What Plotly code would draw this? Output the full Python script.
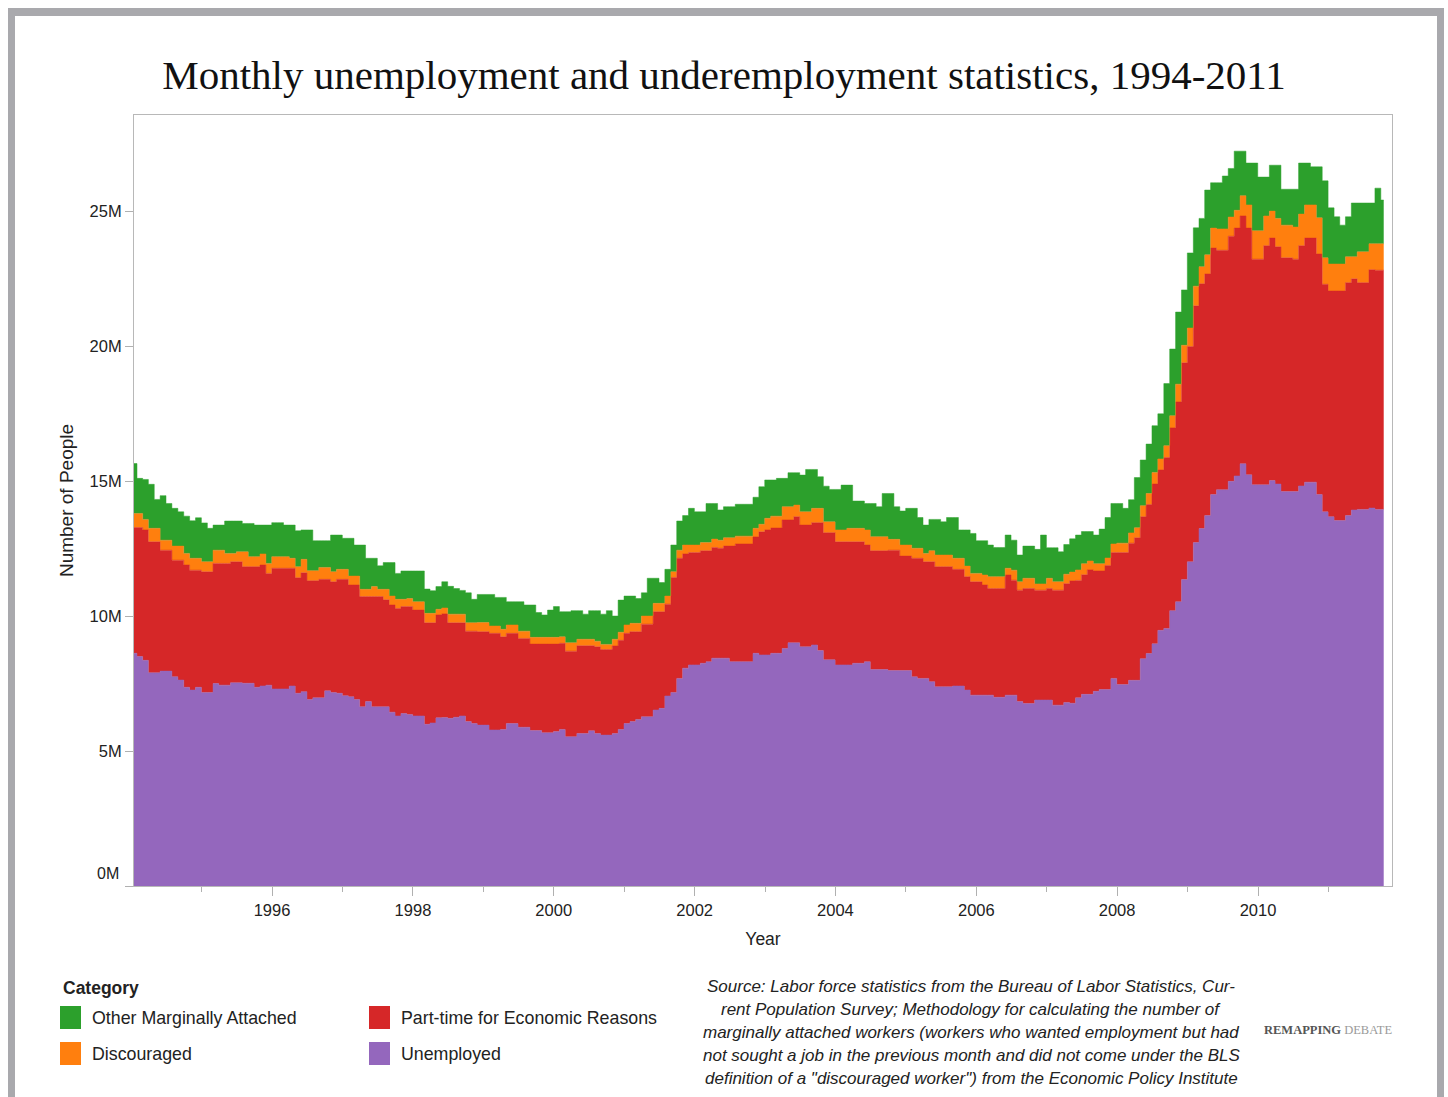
import plotly.graph_objects as go
import pandas as pd

# ---------------- data (millions of people, monthly Jan 1994 - Oct 2011) ----------------
month_starts = pd.date_range("1994-01-01", periods=214, freq="MS")
x_mid = month_starts + pd.Timedelta(days=14)

unemployed = [
    8.62, 8.50, 8.36, 7.90, 7.90, 7.96, 7.96, 7.75, 7.63, 7.36,
    7.26, 7.36, 7.17, 7.17, 7.50, 7.44, 7.44, 7.53, 7.53, 7.51,
    7.51, 7.36, 7.41, 7.44, 7.30, 7.30, 7.30, 7.41, 7.14, 7.20,
    6.91, 6.97, 6.97, 7.23, 7.17, 7.14, 7.05, 7.01, 6.91, 6.64,
    6.83, 6.64, 6.64, 6.64, 6.44, 6.30, 6.39, 6.35, 6.30, 6.30,
    5.99, 6.04, 6.23, 6.24, 6.21, 6.25, 6.30, 6.09, 6.02, 5.96,
    5.96, 5.78, 5.78, 5.80, 6.02, 6.02, 5.88, 5.88, 5.76, 5.76,
    5.68, 5.68, 5.72, 5.80, 5.53, 5.53, 5.65, 5.65, 5.75, 5.65,
    5.59, 5.59, 5.65, 5.80, 6.02, 6.09, 6.17, 6.27, 6.27, 6.52,
    6.58, 7.04, 7.17, 7.69, 8.07, 8.19, 8.19, 8.25, 8.31, 8.44,
    8.44, 8.44, 8.31, 8.31, 8.31, 8.31, 8.62, 8.56, 8.56, 8.62,
    8.62, 8.80, 9.01, 9.01, 8.86, 8.86, 8.93, 8.72, 8.38, 8.38,
    8.19, 8.19, 8.19, 8.25, 8.25, 8.31, 8.02, 8.02, 8.02, 7.98,
    7.98, 7.98, 7.98, 7.75, 7.69, 7.69, 7.57, 7.38, 7.38, 7.38,
    7.41, 7.41, 7.26, 7.07, 7.07, 7.07, 7.07, 6.99, 6.99, 7.07,
    7.07, 6.83, 6.76, 6.76, 6.89, 6.89, 6.89, 6.70, 6.70, 6.80,
    6.77, 6.97, 7.10, 7.10, 7.21, 7.28, 7.28, 7.69, 7.46, 7.46,
    7.62, 7.62, 8.42, 8.61, 8.97, 9.47, 9.54, 10.20, 10.53, 11.35,
    12.01, 12.72, 13.24, 13.72, 14.50, 14.68, 14.68, 14.99, 15.19, 15.64,
    15.23, 14.86, 14.86, 14.86, 15.02, 14.89, 14.61, 14.61, 14.61, 14.82,
    14.96, 14.96, 14.50, 13.86, 13.68, 13.54, 13.54, 13.72, 13.93, 13.95,
    13.95, 14.00, 13.95, 13.95,
]

part_time = [
    4.66, 4.78, 4.83, 4.85, 4.85, 4.48, 4.48, 4.32, 4.44, 4.53,
    4.44, 4.34, 4.47, 4.47, 4.45, 4.51, 4.51, 4.48, 4.48, 4.32,
    4.32, 4.47, 4.48, 4.14, 4.47, 4.47, 4.47, 4.36, 4.28, 4.40,
    4.40, 4.34, 4.39, 4.13, 4.10, 4.22, 4.31, 4.14, 4.24, 4.08,
    3.89, 4.08, 4.08, 3.96, 3.97, 3.98, 3.96, 4.00, 3.92, 3.92,
    3.76, 3.71, 3.81, 3.84, 3.54, 3.50, 3.45, 3.35, 3.42, 3.46,
    3.46, 3.58, 3.58, 3.43, 3.34, 3.34, 3.29, 3.29, 3.20, 3.20,
    3.28, 3.28, 3.24, 3.19, 3.17, 3.17, 3.25, 3.25, 3.15, 3.21,
    3.17, 3.17, 3.24, 3.30, 3.34, 3.33, 3.25, 3.43, 3.43, 3.64,
    3.58, 3.40, 4.26, 4.45, 4.23, 4.16, 4.16, 4.17, 4.11, 4.10,
    4.07, 4.15, 4.28, 4.36, 4.36, 4.36, 4.31, 4.56, 4.63, 4.64,
    4.64, 4.76, 4.55, 4.67, 4.51, 4.51, 4.53, 4.74, 4.71, 4.71,
    4.56, 4.56, 4.56, 4.50, 4.50, 4.32, 4.40, 4.40, 4.40, 4.46,
    4.46, 4.24, 4.24, 4.39, 4.45, 4.32, 4.44, 4.45, 4.45, 4.45,
    4.32, 4.32, 4.20, 4.20, 4.20, 4.08, 3.95, 4.03, 4.03, 4.45,
    4.26, 4.13, 4.26, 4.26, 4.07, 4.07, 4.13, 4.26, 4.26, 4.40,
    4.53, 4.35, 4.43, 4.61, 4.46, 4.39, 4.59, 4.66, 4.89, 4.89,
    5.08, 5.28, 5.26, 5.52, 5.92, 5.94, 6.33, 6.77, 7.40, 8.03,
    7.97, 8.77, 9.07, 8.95, 9.13, 8.87, 8.87, 9.08, 9.18, 9.18,
    9.14, 8.36, 8.36, 8.86, 8.98, 8.79, 8.66, 8.66, 8.61, 8.90,
    9.04, 9.04, 8.91, 8.43, 8.36, 8.50, 8.50, 8.63, 8.56, 8.40,
    8.40, 8.83, 8.86, 8.86,
]

discouraged = [
    0.52, 0.52, 0.39, 0.50, 0.50, 0.37, 0.37, 0.52, 0.52, 0.43,
    0.44, 0.44, 0.37, 0.37, 0.49, 0.49, 0.37, 0.31, 0.37, 0.55,
    0.37, 0.37, 0.41, 0.37, 0.43, 0.43, 0.43, 0.37, 0.41, 0.50,
    0.37, 0.37, 0.44, 0.44, 0.37, 0.37, 0.37, 0.33, 0.33, 0.27,
    0.27, 0.37, 0.27, 0.39, 0.33, 0.34, 0.27, 0.30, 0.31, 0.31,
    0.35, 0.35, 0.21, 0.22, 0.32, 0.32, 0.32, 0.31, 0.31, 0.34,
    0.34, 0.27, 0.27, 0.28, 0.31, 0.31, 0.27, 0.27, 0.25, 0.25,
    0.25, 0.25, 0.25, 0.24, 0.31, 0.31, 0.24, 0.24, 0.24, 0.21,
    0.19, 0.19, 0.25, 0.30, 0.31, 0.31, 0.31, 0.30, 0.30, 0.31,
    0.31, 0.30, 0.21, 0.30, 0.33, 0.28, 0.28, 0.30, 0.30, 0.31,
    0.30, 0.31, 0.31, 0.29, 0.29, 0.29, 0.32, 0.28, 0.43, 0.44,
    0.44, 0.49, 0.49, 0.43, 0.49, 0.49, 0.53, 0.53, 0.40, 0.40,
    0.44, 0.44, 0.50, 0.50, 0.50, 0.56, 0.52, 0.52, 0.52, 0.40,
    0.40, 0.41, 0.41, 0.37, 0.37, 0.31, 0.41, 0.43, 0.43, 0.43,
    0.41, 0.41, 0.39, 0.31, 0.31, 0.37, 0.44, 0.44, 0.44, 0.25,
    0.37, 0.31, 0.38, 0.38, 0.23, 0.23, 0.38, 0.31, 0.31, 0.35,
    0.33, 0.39, 0.41, 0.33, 0.27, 0.27, 0.28, 0.32, 0.35, 0.35,
    0.38, 0.37, 0.41, 0.41, 0.43, 0.41, 0.44, 0.45, 0.66, 0.65,
    0.69, 0.73, 0.63, 0.71, 0.74, 0.79, 0.79, 0.71, 0.66, 0.75,
    0.86, 1.05, 1.05, 1.10, 1.00, 1.05, 1.21, 1.21, 1.19, 1.17,
    1.23, 1.23, 1.34, 0.98, 1.00, 1.00, 1.00, 0.96, 0.82, 1.14,
    1.14, 0.96, 0.98, 0.98,
]

other_marginal = [
    1.85, 1.30, 1.48, 1.63, 1.07, 1.65, 1.36, 1.40, 1.27, 1.38,
    1.39, 1.50, 1.44, 1.24, 0.93, 0.93, 1.20, 1.20, 1.14, 1.05,
    1.23, 1.17, 1.07, 1.42, 1.26, 1.26, 1.17, 1.23, 1.33, 1.09,
    1.51, 1.11, 0.99, 0.99, 1.36, 1.27, 1.15, 1.40, 1.15, 1.64,
    1.15, 1.05, 0.87, 0.99, 1.24, 0.96, 1.05, 1.02, 1.14, 1.14,
    0.90, 0.84, 0.84, 0.97, 1.03, 0.95, 0.88, 1.11, 0.87, 1.04,
    1.04, 1.17, 1.06, 1.18, 0.86, 0.86, 1.09, 0.97, 1.20, 0.92,
    0.83, 1.01, 1.14, 0.93, 1.15, 1.19, 1.06, 0.93, 1.06, 1.13,
    1.12, 1.25, 0.86, 1.19, 1.07, 1.01, 0.92, 0.86, 1.40, 0.93,
    0.77, 0.99, 0.99, 1.08, 1.09, 1.36, 1.23, 1.14, 1.45, 1.32,
    1.12, 1.15, 1.15, 1.18, 1.18, 1.18, 1.15, 1.39, 1.42, 1.34,
    1.40, 1.05, 1.26, 1.20, 1.36, 1.57, 1.44, 1.17, 1.32, 1.20,
    1.50, 1.66, 1.60, 1.01, 1.01, 0.98, 1.23, 1.11, 1.60, 1.70,
    1.21, 1.26, 1.36, 1.48, 1.14, 1.05, 1.16, 1.32, 1.23, 1.39,
    1.51, 1.05, 1.34, 1.48, 1.21, 1.27, 1.17, 1.08, 1.08, 1.23,
    1.11, 0.99, 1.19, 1.19, 1.28, 1.81, 1.13, 1.26, 1.11, 1.10,
    1.23, 1.29, 1.19, 1.09, 1.06, 1.28, 1.50, 1.50, 1.47, 1.29,
    1.23, 1.86, 1.69, 1.83, 1.73, 1.67, 2.30, 2.47, 2.67, 2.05,
    2.78, 2.16, 1.79, 2.40, 1.68, 1.71, 1.96, 1.80, 2.19, 1.65,
    1.55, 2.51, 1.99, 1.44, 1.70, 1.97, 1.33, 1.33, 1.40, 1.89,
    1.55, 1.41, 1.89, 2.85, 2.08, 1.75, 1.44, 1.48, 1.99, 1.81,
    1.81, 1.51, 2.06, 1.62,
]

categories = ["Unemployed", "Part-time for Economic Reasons", "Discouraged", "Other Marginally Attached"]
colors = {"Unemployed": "#9467bd", "Part-time for Economic Reasons": "#d62728",
          "Discouraged": "#ff7f0e", "Other Marginally Attached": "#2ca02c"}
values = {"Unemployed": unemployed, "Part-time for Economic Reasons": part_time,
          "Discouraged": discouraged, "Other Marginally Attached": other_marginal}

y_tick_vals = [0, 5, 10, 15, 20, 25]
y_tick_text = ["", "5M", "10M", "15M", "20M", "25M"]
x_tick_vals = [f"{y}-01-01" for y in range(1996, 2011, 2)]
x_tick_text = [str(y) for y in range(1996, 2011, 2)]

# ---------------- geometry helpers ----------------
W, H = 1448, 1097
ML, MR, MT, MB = 134, 56, 115, 211
PW, PH = W - ML - MR, H - MT - MB


def px(xp):
    return (xp - ML) / PW


def py(yp):
    return (H - MB - yp) / PH


SANS = "Liberation Sans, Arial, sans-serif"
SERIF = "Liberation Serif, Times New Roman, serif"
TXT = "#222222"

fig = go.Figure()
for name in categories:
    c = colors[name]
    fig.add_trace(go.Scatter(
        x=x_mid, y=values[name], name=name, stackgroup="one", mode="lines",
        line=dict(shape="hvh", width=0.5, color=c), fillcolor=c,
        showlegend=False, hoverinfo="skip",
    ))

shapes = []
annotations = []

# outer grey page frame
frame_col = "#a9a9ad"
for (x0, y0, x1, y1) in [(8, 8, 1444, 16), (8, 8, 15, 1097), (1437, 8, 1444, 1097)]:
    shapes.append(dict(type="rect", xref="paper", yref="paper", x0=px(x0), x1=px(x1),
                       y0=py(y1), y1=py(y0), fillcolor=frame_col, line=dict(width=0), layer="above"))

# manual legend
annotations.append(dict(text="<b>Category</b>", x=px(61), y=py(988), xref="paper", yref="paper",
                        xanchor="left", yanchor="middle", showarrow=False,
                        font=dict(family=SANS, size=17.5, color=TXT)))
legend_items = [
    ("Other Marginally Attached", 60, 1006, 90, 1018),
    ("Discouraged", 60, 1042, 90, 1054),
    ("Part-time for Economic Reasons", 369, 1006, 399, 1018),
    ("Unemployed", 369, 1042, 399, 1054),
]
for name, sx, sy, tx, ty in legend_items:
    shapes.append(dict(type="rect", xref="paper", yref="paper", x0=px(sx), x1=px(sx + 21),
                       y0=py(sy + 23), y1=py(sy), fillcolor=colors[name],
                       line=dict(width=0)))
    annotations.append(dict(text=name, x=px(tx), y=py(ty), xref="paper", yref="paper",
                            xanchor="left", yanchor="middle", showarrow=False,
                            font=dict(family=SANS, size=17.8, color=TXT)))

# source note
source_lines = [
    "Source: Labor force statistics from the Bureau of Labor Statistics, Cur-",
    "rent Population Survey; Methodology for calculating the number of",
    "marginally attached workers (workers who wanted employment but had",
    "not sought a job in the previous month and did not come under the BLS",
    "definition of a \"discouraged worker\") from the Economic Policy Institute",
]
for i, line in enumerate(source_lines):
    annotations.append(dict(text=f"<i>{line}</i>", x=px(971), y=py(986 + 23.2 * i),
                            xref="paper", yref="paper", xanchor="center", yanchor="middle",
                            showarrow=False, font=dict(family=SANS, size=17, color=TXT)))

# logo text
annotations.append(dict(text="<b>REMAPPING</b> <span style='color:#9a9a9a'>DEBATE</span>",
                        x=px(1328), y=py(1030), xref="paper", yref="paper",
                        xanchor="center", yanchor="middle", showarrow=False,
                        font=dict(family=SERIF, size=12.5, color="#555555")))

# bottom y label (shifted up like the original)
annotations.append(dict(text="0M", x=px(121), y=py(873), xref="paper", yref="paper",
                        xanchor="right", yanchor="middle", showarrow=False,
                        font=dict(family=SANS, size=16, color=TXT)))

fig.update_layout(
    width=W, height=H,
    margin=dict(l=ML, r=MR, t=MT, b=MB, autoexpand=False),
    paper_bgcolor="white", plot_bgcolor="white",
    title=dict(text="Monthly unemployment and underemployment statistics, 1994-2011",
               x=0.5, xanchor="center", y=1 - 75 / H, yanchor="middle", yref="container",
               font=dict(family=SERIF, size=41, color="#111111")),
    shapes=shapes, annotations=annotations,
    showlegend=False,
    xaxis=dict(
        type="date", range=["1994-01-15", "2011-11-27"],
        tickvals=x_tick_vals, ticktext=x_tick_text,
        ticks="outside", ticklen=9, tickcolor="#b0b0b0", tickwidth=1,
        minor=dict(tickvals=[f"{y}-01-01" for y in range(1995, 2012, 2)],
                   ticks="outside", ticklen=5, tickcolor="#b0b0b0", showgrid=False),
        showgrid=False, zeroline=False,
        showline=True, linecolor="#b8b8b8", linewidth=1, mirror=True,
        tickfont=dict(family=SANS, size=16.5, color=TXT),
        title=dict(text="Year", font=dict(family=SANS, size=17.5, color=TXT), standoff=14),
    ),
    yaxis=dict(
        range=[0, 28.56], tickvals=y_tick_vals, ticktext=y_tick_text,
        ticks="outside", ticklen=8, tickcolor="#b0b0b0", tickwidth=1,
        showgrid=False, zeroline=False,
        showline=True, linecolor="#b8b8b8", linewidth=1, mirror=True,
        tickfont=dict(family=SANS, size=16.5, color=TXT),
        title=dict(text="Number of People", font=dict(family=SANS, size=19, color=TXT), standoff=10),
    ),
)

fig.write_html("out.html")
